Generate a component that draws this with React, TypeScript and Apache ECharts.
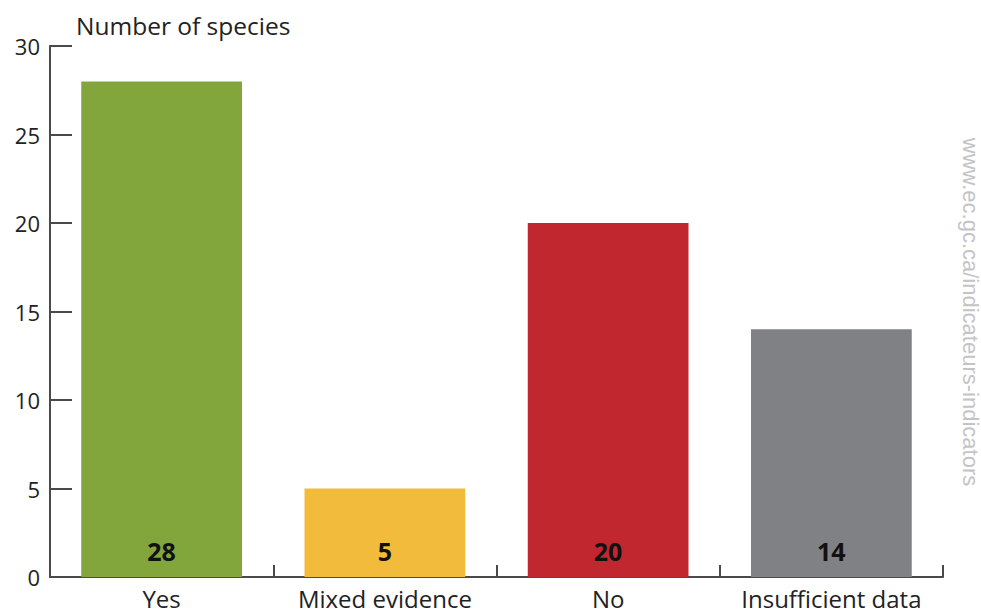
import React, { useEffect, useRef } from "react";
import * as echarts from "echarts";

const categories = ["Yes", "Mixed evidence", "No", "Insufficient data"];
const values = [28, 5, 20, 14];
const colors = ["#82a53c", "#f3bb3b", "#c1272f", "#808184"];
const yTitle = "Number of species";
const watermark = "www.ec.gc.ca/indicateurs-indicators";

export default function App() {
  const ref = useRef<HTMLDivElement>(null);
  useEffect(() => {
    const chart = echarts.init(ref.current!, undefined, { renderer: "svg" });
    const font = "'Open Sans', 'Noto Sans', sans-serif";
    chart.setOption({
      animation: false,
      textStyle: { fontFamily: font },
      grid: { left: 50, right: 38, top: 46, bottom: 36, containLabel: false },
      xAxis: {
        type: "category",
        data: categories,
        axisLine: { lineStyle: { color: "#4a4a4a", width: 2 } },
        axisTick: { show: true, inside: true, interval: 0, length: 12, lineStyle: { color: "#4a4a4a", width: 2 } },
        axisLabel: { color: "#222", fontSize: 24, margin: 9, interval: 0, hideOverlap: false, fontFamily: font },
      },
      yAxis: {
        type: "value",
        min: 0,
        max: 30,
        interval: 5,
        splitLine: { show: false },
        axisLine: { show: true, lineStyle: { color: "#4a4a4a", width: 2 } },
        axisTick: { show: true, inside: true, length: 22, lineStyle: { color: "#4a4a4a", width: 2 } },
        axisLabel: { color: "#222", fontSize: 22, margin: 10, fontFamily: font },
      },
      series: [
        {
          type: "bar",
          data: values.map((v, i) => ({ value: v, itemStyle: { color: colors[i] } })),
          barCategoryGap: "28%",
          label: {
            show: true,
            position: "insideBottom",
            distance: 14,
            color: "#111",
            fontSize: 25,
            fontWeight: "bold",
            fontFamily: font,
          },
        },
      ],
      graphic: [
        {
          type: "text",
          left: 76,
          top: 13,
          style: { text: yTitle, fontSize: 24.5, fill: "#222", fontFamily: font },
        },
        {
          type: "text",
          x: 970,
          y: 312,
          rotation: -Math.PI / 2,
          style: {
            text: watermark,
            fontSize: 22,
            fill: "#c4c4c4",
            fontFamily: "'Liberation Sans', Arial, sans-serif",
            align: "center",
            verticalAlign: "middle",
          },
        },
      ],
    });
    return () => chart.dispose();
  }, []);
  return (
    <div
      ref={ref}
      style={{ position: "fixed", left: 0, top: 0, width: 981, height: 613, background: "#fff" }}
    />
  );
}
